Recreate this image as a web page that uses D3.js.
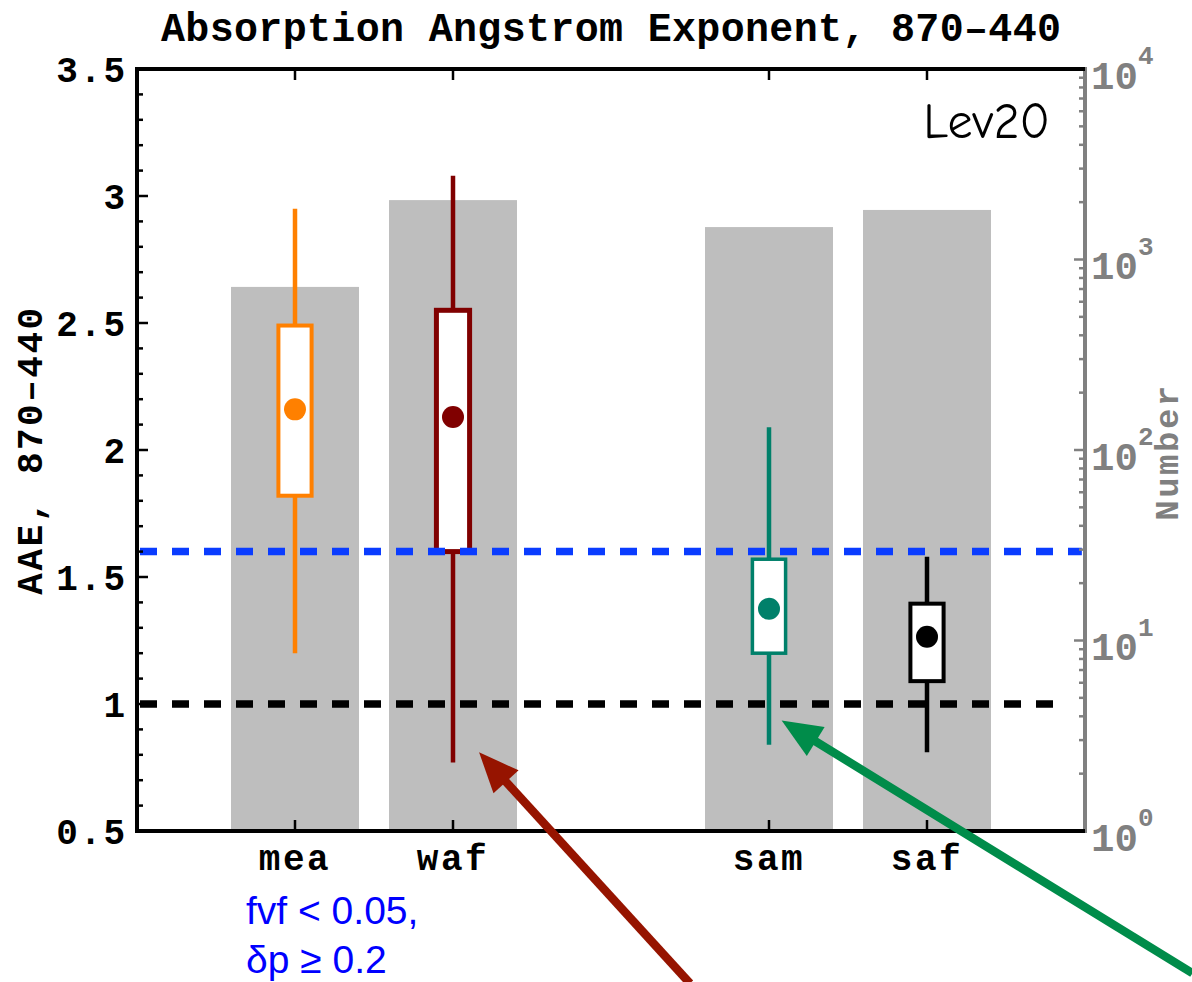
<!DOCTYPE html>
<html>
<head>
<meta charset="utf-8">
<script src="https://cdn.jsdelivr.net/npm/d3@7"></script>
<style>
  html, body { margin: 0; padding: 0; background: #fff; }
  svg { display: block; }
  .mono { font-family: "Liberation Mono", "DejaVu Sans Mono", monospace; font-weight: bold; }
</style>
</head>
<body>
<svg id="chart" width="1192" height="982"></svg>
<script>
// Regions and their statistics of the absorption Angstrom exponent (870-440 nm)
const categories   = ["mea", "waf", "sam", "saf"];
const slots        = [1, 2, 4, 5];
const counts       = [718, 2050, 1480, 1820];
const whiskerLow   = [1.20, 0.77, 0.84, 0.81];
const boxLow       = [1.82, 1.60, 1.20, 1.09];
const means        = [2.16, 2.13, 1.375, 1.265];
const boxHigh      = [2.49, 2.55, 1.57, 1.395];
const whiskerHigh  = [2.95, 3.08, 2.09, 1.58];
const seriesColors = ["#ff8000", "#800000", "#00806a", "#000000"];

// Reference levels
const refValues = [1.6, 1.0];
const refColors = ["#0a3cff", "#000000"];
const refEnds   = [5.98, 5.82];

// Axis ticks
const yTicks      = [0.5, 1, 1.5, 2, 2.5, 3, 3.5];
const yTickLabels = ["0.5", "1", "1.5", "2", "2.5", "3", "3.5"];
const countDecades = [1, 10, 100, 1000, 10000];
const countExponents = ["0", "1", "2", "3", "4"];

// Annotation arrows, in data units (slot, AAE): tail -> tip
const arrowTails = [[3.50, -0.10], [6.68, -0.06]];
const arrowTips  = [[2.165, 0.81], [4.08, 0.935]];
const arrowColors = ["#961400", "#008c4a"];

const svg = d3.select("#chart");
const L = 137, R = 1085, T = 69, B = 831;

const x = d3.scaleLinear().domain([0, 6]).range([L, R]);
const y = d3.scaleLinear().domain([0.5, 3.5]).range([B, T]);
const yN = d3.scaleLog().domain([1, 10000]).range([B, T]);

const rows = categories.map((c, i) => ({
  name: c, slot: slots[i], n: counts[i], lo: whiskerLow[i], q1: boxLow[i],
  mean: means[i], q3: boxHigh[i], hi: whiskerHigh[i], color: seriesColors[i]
}));

// Gray bars: number of observations (right log axis)
const barW = 0.81;
svg.append("g").selectAll("rect").data(rows).join("rect")
  .attr("x", d => x(d.slot - barW / 2))
  .attr("width", d => x(d.slot + barW / 2) - x(d.slot - barW / 2))
  .attr("y", d => yN(d.n))
  .attr("height", d => yN(1) - yN(d.n))
  .attr("fill", "#bebebe");

// Box plots
const boxW = 0.21;
const strokeW = [4, 5, 3.5, 4];
const gBox = svg.append("g");
rows.forEach((d, i) => {
  gBox.append("line")
    .attr("x1", x(d.slot)).attr("x2", x(d.slot))
    .attr("y1", y(d.lo)).attr("y2", y(d.hi))
    .attr("stroke", d.color).attr("stroke-width", 4.5);
  gBox.append("rect")
    .attr("x", x(d.slot - boxW / 2))
    .attr("width", x(d.slot + boxW / 2) - x(d.slot - boxW / 2))
    .attr("y", y(d.q3))
    .attr("height", y(d.q1) - y(d.q3))
    .attr("fill", "#fff")
    .attr("stroke", d.color).attr("stroke-width", strokeW[i]);
  gBox.append("circle")
    .attr("cx", x(d.slot)).attr("cy", y(d.mean)).attr("r", 11)
    .attr("fill", d.color);
});

// Dashed reference lines
svg.append("g").selectAll("line").data(refValues).join("line")
  .attr("x1", L + 3).attr("x2", (d, i) => x(refEnds[i]))
  .attr("y1", d => y(d)).attr("y2", d => y(d))
  .attr("stroke", (d, i) => refColors[i])
  .attr("stroke-width", 7.5)
  .attr("stroke-dasharray", "17,15");

// Left axis with minor ticks
const gL = svg.append("g");
const minorY = d3.range(5, 36).map(v => v / 10);
gL.selectAll("line.minor").data(minorY).join("line")
  .attr("x1", L).attr("x2", d => L + (Math.abs(d * 2 - Math.round(d * 2)) < 1e-6 ? 11 : 6))
  .attr("y1", d => y(d)).attr("y2", d => y(d))
  .attr("stroke", "#000").attr("stroke-width", 2.5);
gL.selectAll("text").data(yTicks).join("text")
  .attr("class", "mono")
  .attr("x", 127).attr("y", d => y(d)).attr("dy", "0.35em")
  .attr("text-anchor", "end")
  .attr("font-size", 36).attr("letter-spacing", 2)
  .text((d, i) => yTickLabels[i]);

// Right log axis (counts)
const gR = svg.append("g");
const minorN = [];
for (let e = 0; e < 4; e++) for (let m = 2; m <= 9; m++) minorN.push(m * Math.pow(10, e));
gR.selectAll("line.minor").data(minorN).join("line")
  .attr("x1", R).attr("x2", R - 6)
  .attr("y1", d => yN(d)).attr("y2", d => yN(d))
  .attr("stroke", "#808080").attr("stroke-width", 2.5);
gR.selectAll("line.major").data(countDecades).join("line")
  .attr("x1", R).attr("x2", R - 11)
  .attr("y1", d => yN(d)).attr("y2", d => yN(d))
  .attr("stroke", "#808080").attr("stroke-width", 2.5);
const rLab = gR.selectAll("g.lab").data(countDecades).join("g")
  .attr("transform", d => `translate(${R + 6},${yN(d)})`);
rLab.append("text").attr("class", "mono")
  .attr("x", 0).attr("y", 0).attr("dy", "0.5em")
  .attr("font-size", 39).attr("fill", "#808080")
  .text("10");
rLab.append("text").attr("class", "mono")
  .attr("x", 47).attr("y", -5)
  .attr("font-size", 26).attr("fill", "#808080")
  .text((d, i) => countExponents[i]);
svg.append("line")
  .attr("x1", R).attr("x2", R).attr("y1", T - 2).attr("y2", B + 2)
  .attr("stroke", "#808080").attr("stroke-width", 4);

// Top and bottom category ticks
const gX = svg.append("g");
gX.selectAll("line.bt").data(rows).join("line")
  .attr("x1", d => x(d.slot)).attr("x2", d => x(d.slot))
  .attr("y1", B).attr("y2", B - 11)
  .attr("stroke", "#000").attr("stroke-width", 2.5);
gX.selectAll("line.tt").data(rows).join("line")
  .attr("x1", d => x(d.slot)).attr("x2", d => x(d.slot))
  .attr("y1", T).attr("y2", T + 11)
  .attr("stroke", "#000").attr("stroke-width", 2.5);
gX.selectAll("text").data(rows).join("text")
  .attr("class", "mono")
  .attr("x", d => x(d.slot)).attr("y", 870)
  .attr("text-anchor", "middle")
  .attr("font-size", 36).attr("letter-spacing", 2.5)
  .text(d => d.name);

// Frame lines (left, top, bottom)
svg.append("path")
  .attr("d", `M${R},${T}H${L}V${B}H${R}`)
  .attr("fill", "none").attr("stroke", "#000").attr("stroke-width", 4);

// Titles and labels
svg.append("text").attr("class", "mono")
  .attr("x", 611).attr("y", 41).attr("text-anchor", "middle")
  .attr("font-size", 40).attr("textLength", 900).attr("lengthAdjust", "spacing")
  .text("Absorption Angstrom Exponent, 870\u2013440");

svg.append("text").attr("class", "mono")
  .attr("transform", "translate(42,450) rotate(-90)")
  .attr("text-anchor", "middle")
  .attr("font-size", 36).attr("letter-spacing", 2.5)
  .text("AAE, 870\u2013440");

svg.append("text").attr("class", "mono")
  .attr("transform", "translate(1178,452) rotate(-90)")
  .attr("text-anchor", "middle")
  .attr("font-size", 34).attr("letter-spacing", 2.5)
  .attr("fill", "#808080")
  .text("Number");

svg.append("text")
  .attr("x", 1050).attr("y", 138).attr("text-anchor", "end")
  .attr("font-family", "'Comic Sans MS', 'Comic Neue', 'DejaVu Sans', sans-serif")
  .attr("font-size", 50)
  .text("Lev20");

const note = svg.append("g")
  .attr("font-family", "'Liberation Sans', Arial, sans-serif")
  .attr("font-size", 39).attr("fill", "#0000ff");
note.append("text").attr("x", 246).attr("y", 924).text("fvf < 0.05,");
note.append("text").attr("x", 246).attr("y", 973).text("\u03b4p \u2265 0.2");

// Annotation arrows
const gA = svg.append("g");
arrowTails.forEach((t, i) => {
  const x0 = x(t[0]), y0 = y(t[1]);
  const x1 = x(arrowTips[i][0]), y1 = y(arrowTips[i][1]);
  const ang = Math.atan2(y1 - y0, x1 - x0);
  const headLen = 40, headHalf = 17;
  const bx = x1 - headLen * Math.cos(ang), by = y1 - headLen * Math.sin(ang);
  gA.append("line")
    .attr("x1", x0).attr("y1", y0)
    .attr("x2", x1 - (headLen - 4) * Math.cos(ang)).attr("y2", y1 - (headLen - 4) * Math.sin(ang))
    .attr("stroke", arrowColors[i]).attr("stroke-width", 8.5);
  const px = -Math.sin(ang), py = Math.cos(ang);
  gA.append("polygon")
    .attr("points", [
      [x1, y1],
      [bx + headHalf * px, by + headHalf * py],
      [bx - headHalf * px, by - headHalf * py]
    ].map(p => p.join(",")).join(" "))
    .attr("fill", arrowColors[i]);
});
</script>
</body>
</html>
